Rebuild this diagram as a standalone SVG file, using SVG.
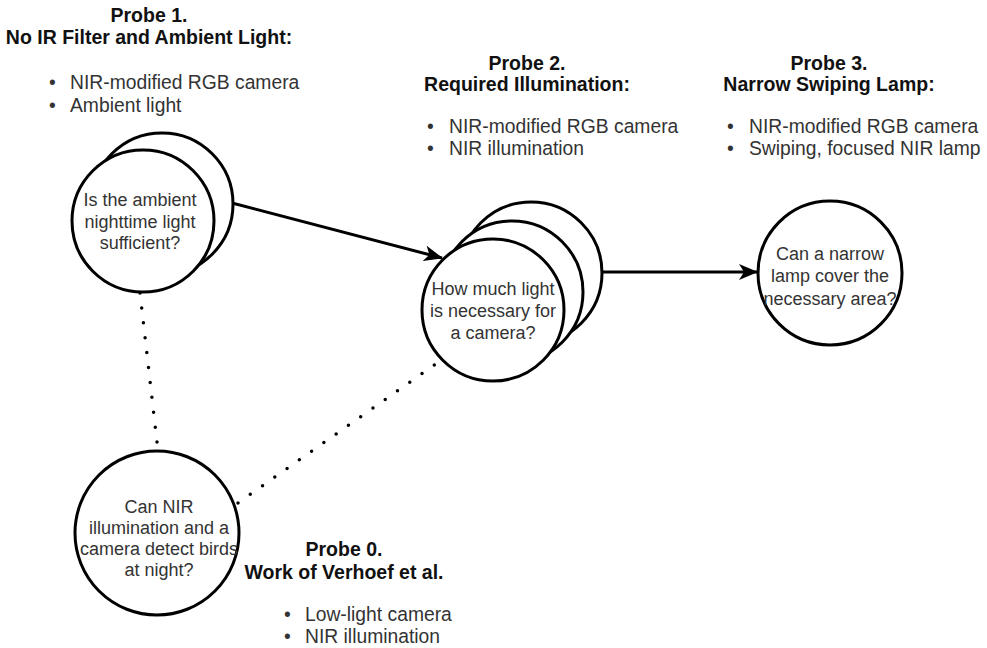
<svg xmlns="http://www.w3.org/2000/svg" width="987" height="648" viewBox="0 0 987 648">
  <defs>
    <style>
      .node { fill: #ffffff; stroke: #000000; stroke-width: 3; }
      .q { font-family: "Liberation Sans", Arial, sans-serif; font-size: 18px; fill: #333333; text-anchor: middle; }
      .h { font-family: "Liberation Sans", Arial, sans-serif; font-size: 19.5px; font-weight: bold; fill: #111111; text-anchor: middle; }
      .b { font-family: "Liberation Sans", Arial, sans-serif; font-size: 19.3px; fill: #333333; }
      .edge { fill: none; stroke: #000000; stroke-width: 3; }
      .dots { fill: none; stroke: #000000; stroke-width: 3.5; stroke-linecap: round; stroke-dasharray: 0 15; }
    </style>
    <marker id="arrow" viewBox="0 0 20 16" refX="18" refY="8" markerWidth="20" markerHeight="16" markerUnits="userSpaceOnUse" orient="auto">
      <path d="M0,0 L19,8 L0,16 L5,8 Z" fill="#000000"/>
    </marker>
  </defs>

  <rect width="987" height="648" fill="#ffffff"/>

  <!-- connectors -->
  <g id="connectors">
    <line class="edge" x1="232" y1="203" x2="442" y2="258" marker-end="url(#arrow)"/>
    <line class="edge" x1="601" y1="272" x2="757" y2="272" marker-end="url(#arrow)"/>
    <line class="dots" x1="140" y1="293" x2="158" y2="451"/>
    <line class="dots" x1="238" y1="503" x2="437" y2="363"/>
  </g>

  <!-- Probe 1 -->
  <g id="probe1">
    <circle class="node" cx="162" cy="204" r="71"/>
    <circle class="node" cx="143" cy="221" r="71"/>
    <text class="q" x="140" y="205.5">Is the ambient</text>
    <text class="q" x="140" y="227.5">nighttime light</text>
    <text class="q" x="140" y="248.5">sufficient?</text>
  </g>
  <g id="probe1-label">
    <text class="h" x="149" y="22">Probe 1.</text>
    <text class="h" x="149" y="44">No IR Filter and Ambient Light:</text>
    <text class="b" x="49" y="89">•</text>
    <text class="b" x="70" y="89">NIR-modified RGB camera</text>
    <text class="b" x="49" y="112">•</text>
    <text class="b" x="70" y="112">Ambient light</text>
  </g>

  <!-- Probe 2 -->
  <g id="probe2">
    <circle class="node" cx="531" cy="273" r="71"/>
    <circle class="node" cx="512" cy="292" r="71"/>
    <circle class="node" cx="493" cy="310" r="71"/>
    <text class="q" x="493" y="294.5">How much light</text>
    <text class="q" x="493" y="316.5">is necessary for</text>
    <text class="q" x="493" y="338.5">a camera?</text>
  </g>
  <g id="probe2-label">
    <text class="h" x="527" y="70">Probe 2.</text>
    <text class="h" x="527" y="91">Required Illumination:</text>
    <text class="b" x="427" y="133">•</text>
    <text class="b" x="449" y="133">NIR-modified RGB camera</text>
    <text class="b" x="427" y="155">•</text>
    <text class="b" x="449" y="155">NIR illumination</text>
  </g>

  <!-- Probe 3 -->
  <g id="probe3">
    <circle class="node" cx="830" cy="273" r="72"/>
    <text class="q" x="830" y="259.5">Can a narrow</text>
    <text class="q" x="830" y="282">lamp cover the</text>
    <text class="q" x="830" y="304.5">necessary area?</text>
  </g>
  <g id="probe3-label">
    <text class="h" x="829" y="70">Probe 3.</text>
    <text class="h" x="829" y="91">Narrow Swiping Lamp:</text>
    <text class="b" x="727" y="133">•</text>
    <text class="b" x="749" y="133">NIR-modified RGB camera</text>
    <text class="b" x="727" y="155">•</text>
    <text class="b" x="749" y="155">Swiping, focused NIR lamp</text>
  </g>

  <!-- Probe 0 -->
  <g id="probe0">
    <circle class="node" cx="157" cy="533" r="82"/>
    <text class="q" x="159" y="513">Can NIR</text>
    <text class="q" x="159" y="534">illumination and a</text>
    <text class="q" x="159" y="555">camera detect birds</text>
    <text class="q" x="159" y="576">at night?</text>
  </g>
  <g id="probe0-label">
    <text class="h" x="344" y="556">Probe 0.</text>
    <text class="h" x="344" y="579">Work of Verhoef et al.</text>
    <text class="b" x="284" y="621">•</text>
    <text class="b" x="305" y="621">Low-light camera</text>
    <text class="b" x="284" y="643">•</text>
    <text class="b" x="305" y="643">NIR illumination</text>
  </g>
</svg>
